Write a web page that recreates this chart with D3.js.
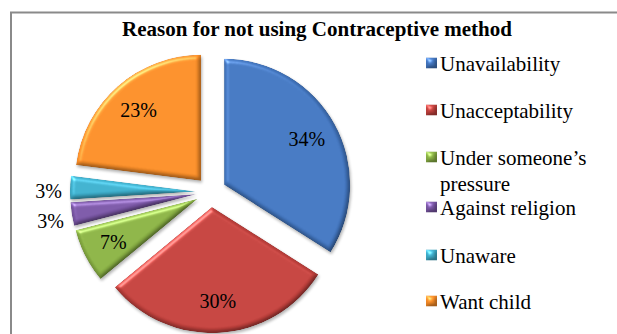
<!DOCTYPE html>
<html>
<head>
<meta charset="utf-8">
<script src="https://cdn.jsdelivr.net/npm/d3@7/dist/d3.min.js"></script>
<style>
  html, body { margin: 0; padding: 0; background: #fff; }
  svg { display: block; }
  text { font-family: "Liberation Serif", "Times New Roman", serif; fill: #000; }
</style>
</head>
<body>
<svg id="chart" width="617" height="334"></svg>
<script>
const title = "Reason for not using Contraceptive method";
const categories = ["Unavailability", "Unacceptability", "Under someone\u2019s pressure", "Against religion", "Unaware", "Want child"];
const legendLines = [["Unavailability"], ["Unacceptability"], ["Under someone\u2019s", "pressure"], ["Against religion"], ["Unaware"], ["Want child"]];
const values = [34, 30, 7, 3, 3, 23];
const valueLabels = ["34%", "30%", "7%", "3%", "3%", "23%"];
const colors = ["#4174BD", "#C0403C", "#88AF43", "#7855A3", "#3CACC9", "#F58B27"];

const svg = d3.select("#chart");
const W = 617, H = 334;

// frame
svg.append("path")
  .attr("d", `M11,${H} L11,12.5 L${W},12.5`)
  .attr("fill", "none").attr("stroke", "#8a8a8a").attr("stroke-width", 2);

// title
svg.append("text").attr("x", 317).attr("y", 36)
  .attr("text-anchor", "middle").attr("font-weight", "bold")
  .attr("font-size", 21).text(title);

// bevel filter
const defs = svg.append("defs");
const f = defs.append("filter").attr("id", "bevel")
  .attr("color-interpolation-filters", "sRGB")
  .attr("x", "-10%").attr("y", "-10%").attr("width", "120%").attr("height", "120%");
f.append("feGaussianBlur").attr("in", "SourceAlpha").attr("stdDeviation", 2.2).attr("result", "blur");
const spec = f.append("feSpecularLighting").attr("in", "blur").attr("surfaceScale", 3)
  .attr("specularConstant", 0.35).attr("specularExponent", 20)
  .attr("lighting-color", "#ffffff").attr("result", "spec");
spec.append("feDistantLight").attr("azimuth", 235).attr("elevation", 35);
f.append("feComposite").attr("in", "spec").attr("in2", "SourceAlpha").attr("operator", "in").attr("result", "specIn");
const diff = f.append("feDiffuseLighting").attr("in", "blur").attr("surfaceScale", 3)
  .attr("diffuseConstant", 1.0).attr("lighting-color", "#ffffff").attr("result", "diff");
diff.append("feDistantLight").attr("azimuth", 235).attr("elevation", 60);
f.append("feComposite").attr("in", "SourceGraphic").attr("in2", "diff").attr("operator", "arithmetic")
  .attr("k1", 0.6).attr("k2", 0.48).attr("k3", 0).attr("k4", 0).attr("result", "lit");
f.append("feComposite").attr("in", "lit").attr("in2", "specIn").attr("operator", "arithmetic")
  .attr("k1", 0).attr("k2", 1).attr("k3", 1).attr("k4", 0).attr("result", "lit2");
f.append("feComposite").attr("in", "lit2").attr("in2", "SourceAlpha").attr("operator", "in");

const shadow = defs.append("filter").attr("id", "shadow")
  .attr("color-interpolation-filters", "sRGB")
  .attr("x", "-20%").attr("y", "-20%").attr("width", "140%").attr("height", "140%");
shadow.append("feGaussianBlur").attr("in", "SourceAlpha").attr("stdDeviation", 1.5).attr("result", "b");
shadow.append("feOffset").attr("in", "b").attr("dx", 1).attr("dy", 1.5).attr("result", "o");
shadow.append("feComponentTransfer").attr("in", "o").append("feFuncA").attr("type", "linear").attr("slope", 0.3);

// pie
const cx = 211, cy = 192, R = 126, explode = 15;
const pie = d3.pie().sort(null).value(d => d).startAngle(0).endAngle(2 * Math.PI);
const arcs = pie(values);
const arc = d3.arc().innerRadius(0).outerRadius(R);

const g = svg.append("g").attr("transform", `translate(${cx},${cy})`);
const slices = g.selectAll("g.slice").data(arcs).enter().append("g")
  .attr("class", "slice")
  .attr("transform", d => {
    const a = (d.startAngle + d.endAngle) / 2;
    return `translate(${explode * Math.sin(a)},${-explode * Math.cos(a)})`;
  });
slices.append("path").attr("d", arc).attr("fill", "#000").attr("filter", "url(#shadow)");
slices.append("path").attr("d", arc).attr("fill", (d, i) => colors[i]).attr("filter", "url(#bevel)");

// labels
slices.append("text")
  .attr("text-anchor", "middle").attr("dominant-baseline", "central")
  .attr("font-size", 20)
  .attr("x", d => {
    const a = (d.startAngle + d.endAngle) / 2;
    const k = d.value < 5 ? 1.17 : 0.75;
    return k * R * Math.sin(a);
  })
  .attr("y", d => {
    const a = (d.startAngle + d.endAngle) / 2;
    const k = d.value < 5 ? 1.17 : 0.75;
    return -k * R * Math.cos(a) + (d.value < 5 ? 4 : 0);
  })
  .text((d, i) => valueLabels[i]);

// legend
const baseY = [71, 118, 165, 215, 263, 309];
const lg = svg.append("g");
const rows = lg.selectAll("g").data(categories).enter().append("g");
rows.append("rect")
  .attr("x", 426).attr("y", (d, i) => baseY[i] - 13.5)
  .attr("width", 11).attr("height", 11)
  .attr("fill", (d, i) => colors[i]).attr("filter", "url(#bevel)");
rows.append("text")
  .attr("x", 440).attr("y", (d, i) => baseY[i])
  .attr("font-size", 21)
  .each(function (d, i) {
    const t = d3.select(this);
    legendLines[i].forEach((ln, j) => {
      t.append("tspan").attr("x", 440).attr("dy", j === 0 ? 0 : 26).text(ln);
    });
  });
</script>
</body>
</html>
